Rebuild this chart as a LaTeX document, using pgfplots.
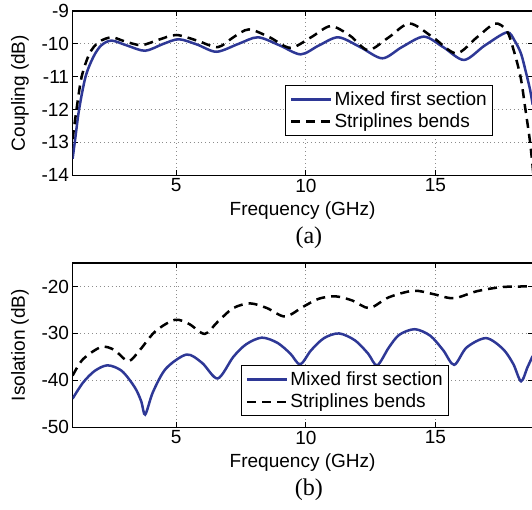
\documentclass[border=0pt]{standalone}
\usepackage{fontspec}
\setmainfont{Liberation Sans}
\newfontfamily\seriffont{Liberation Serif}
\usepackage{pgfplots}
\pgfplotsset{compat=1.18}
\definecolor{mblue}{RGB}{46,56,150}
\begin{document}
\begin{tikzpicture}
\pgfplotsset{
  every axis/.append style={
    scale only axis, width=459.5pt, height=164pt,
    xmin=1, xmax=18.75,
    xtick={5,10,15},
    tick align=inside,
    major tick length=5pt,
    xmajorgrids, ymajorgrids,
    grid style={dash pattern=on 0.9pt off 3pt, gray!90, line width=0.9pt},
    axis line style={line width=1.1pt},
    tick style={black, line width=0.8pt},
    font=\fontsize{19}{22}\selectfont,
    tick label style={font=\fontsize{19}{22}\selectfont},
    /pgf/number format/assume math mode=true,
    xlabel style={at={(axis description cs:0.5,-0.2134)}, anchor=center},
    ylabel style={at={(axis description cs:-0.1143,0.5)}, anchor=center},
    legend cell align=left,
    legend image code/.code={\draw[#1] (0pt,0pt) -- (40pt,0pt);},
  },
  mixed/.style={color=mblue, line width=2.5pt, smooth, tension=0.5, no markers},
  strip/.style={color=black, line width=2.5pt, dash pattern=on 9pt off 6pt, smooth, tension=0.5, no markers},
}
\begin{axis}[name=top,
  ymin=-14, ymax=-9, ytick={-14,-13,-12,-11,-10,-9},
  xlabel={Frequency (GHz)}, ylabel={Coupling (dB)},
  legend style={at={(0.4625,0.549)}, anchor=north west, draw=black, line width=1.1pt, font=\fontsize{19}{22}\selectfont, inner xsep=4pt, inner ysep=4pt, row sep=3pt},
]
\addplot[mixed] coordinates {
(1.0,-13.5) (1.1,-12.9) (1.25,-12.0) (1.5,-11.0) (1.8,-10.4) (2.1,-10.05) (2.5,-9.9) (3.1,-10.05) (3.8,-10.21) (4.5,-10.0) (5.1,-9.86) (5.8,-10.02) (6.55,-10.24) (7.4,-10.0) (8.15,-9.8) (9.0,-10.05) (9.8,-10.32) (10.5,-10.05) (11.25,-9.8) (12.1,-10.1) (12.95,-10.44) (13.7,-10.1) (14.55,-9.78) (15.3,-10.1) (16.1,-10.49) (16.9,-10.05) (17.75,-9.65) (18.05,-9.9) (18.3,-10.3) (18.5,-10.9) (18.65,-11.4) (18.75,-11.85)
};
\addlegendentry{Mixed first section}
\addplot[strip] coordinates {
(1.0,-12.9) (1.15,-12.0) (1.35,-11.0) (1.65,-10.3) (2.0,-9.95) (2.5,-9.8) (3.0,-9.92) (3.65,-10.04) (4.3,-9.88) (5.0,-9.73) (5.8,-9.9) (6.6,-10.1) (7.2,-9.8) (7.8,-9.56) (8.6,-9.8) (9.4,-10.12) (10.2,-9.8) (10.95,-9.46) (11.7,-9.75) (12.4,-10.19) (13.2,-9.8) (14.0,-9.38) (14.9,-9.8) (15.8,-10.29) (16.6,-9.8) (17.3,-9.38) (17.75,-9.6) (18.0,-10.15) (18.28,-11.0) (18.47,-12.0) (18.65,-13.0) (18.78,-14.0)
};
\addlegendentry{Striplines bends}
\end{axis}
\begin{axis}[name=bot, at={(0,-251.7pt)},
  ymin=-50, ymax=-15, ytick={-50,-40,-30,-20},
  xlabel={Frequency (GHz)}, ylabel={Isolation (dB)},
  legend style={at={(0.3667,0.3776)}, anchor=north west, draw=black, line width=1.1pt, font=\fontsize{19}{22}\selectfont, inner xsep=4pt, inner ysep=4pt, row sep=3pt},
]
\addplot[mixed] coordinates {
(1.0,-43.9) (1.4,-40.5) (1.85,-38.0) (2.35,-36.8) (2.9,-38.0) (3.4,-41.5) (3.65,-44.5) (3.8,-47.3) (4.1,-42.5) (4.6,-37.5) (5.4,-34.5) (6.0,-36.3) (6.6,-39.6) (7.2,-35.0) (7.7,-32.3) (8.3,-30.9) (8.9,-32.0) (9.4,-34.3) (9.78,-36.6) (10.2,-33.6) (10.7,-31.0) (11.28,-30.0) (11.9,-31.5) (12.4,-34.3) (12.75,-36.8) (13.2,-33.0) (13.6,-30.3) (14.2,-29.1) (14.8,-30.5) (15.3,-33.6) (15.72,-36.7) (16.2,-33.0) (16.95,-31.0) (17.6,-33.3) (18.0,-36.5) (18.3,-40.2) (18.55,-37.2) (18.75,-34.8)
};
\addlegendentry{Mixed first section}
\addplot[strip] coordinates {
(1.0,-39.0) (1.4,-35.5) (2.1,-32.9) (2.6,-33.5) (3.15,-35.9) (3.6,-33.5) (4.2,-29.5) (4.95,-27.1) (5.5,-28.0) (6.1,-30.1) (6.6,-27.5) (7.2,-24.6) (7.85,-23.6) (8.5,-24.6) (9.2,-26.4) (9.9,-24.3) (10.5,-22.6) (11.15,-22.1) (11.8,-23.0) (12.45,-24.6) (13.2,-22.3) (14.15,-20.9) (14.9,-21.6) (15.7,-22.5) (16.6,-21.0) (17.6,-20.1) (18.75,-20.0)
};
\addlegendentry{Striplines bends}
\end{axis}
\node[font=\seriffont\fontsize{24}{24}\selectfont] at ([xshift=236pt,yshift=-62pt]top.south west) {(a)};
\node[font=\seriffont\fontsize{24}{24}\selectfont] at ([xshift=236pt,yshift=-62pt]bot.south west) {(b)};
\pgfresetboundingbox
\path[use as bounding box] (-72.5pt,-334pt) rectangle (458.8pt,175pt);
\end{tikzpicture}
\end{document}
